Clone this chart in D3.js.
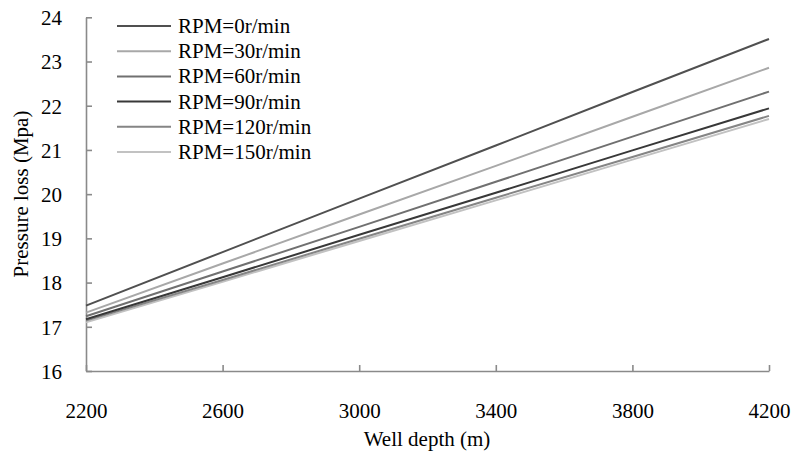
<!DOCTYPE html>
<html lang="en">
<head>
<meta charset="UTF-8">
<script src="https://d3js.org/d3.v7.min.js"></script>
<style>
  body { margin: 0; background: #fff; }
  svg text { font-family: "Liberation Serif", "Times New Roman", serif; fill: #000; }
  .axis path, .axis line { stroke: #8a8a8a; stroke-width: 1.6px; }
</style>
</head>
<body>
<svg width="793" height="453"></svg>
<script>
// well depth (m)
var depths = [2200, 2600, 3000, 3400, 3800, 4200];
// pressure loss (MPa) per rotation speed
var rpm0   = [17.48, 18.69, 19.90, 21.10, 22.31, 23.51];
var rpm30  = [17.32, 18.43, 19.54, 20.64, 21.75, 22.86];
var rpm60  = [17.24, 18.25, 19.26, 20.28, 21.30, 22.32];
var rpm90  = [17.17, 18.12, 19.08, 20.03, 20.99, 21.94];
var rpm120 = [17.14, 18.06, 18.99, 19.92, 20.84, 21.77];
var rpm150 = [17.10, 18.02, 18.94, 19.86, 20.78, 21.70];
var seriesNames = ["RPM=0r/min", "RPM=30r/min", "RPM=60r/min", "RPM=90r/min", "RPM=120r/min", "RPM=150r/min"];
var yTicks = [16, 17, 18, 19, 20, 21, 22, 23, 24];

var series = [rpm0, rpm30, rpm60, rpm90, rpm120, rpm150];
var colors = ["#505050", "#a8a8a8", "#707070", "#383838", "#858585", "#c2c2c2"];

var svg = d3.select("svg");
var x = d3.scaleLinear().domain([2200, 4200]).range([86, 769]);
var y = d3.scaleLinear().domain([16, 24]).range([371, 17.3]);

// axes, ticks point inward
svg.append("g").attr("class", "axis")
  .attr("transform", "translate(0,371)")
  .call(d3.axisBottom(x).tickValues(depths).tickSize(-6).tickSizeOuter(0).tickFormat(d3.format("d")))
  .call(function(g){
    g.selectAll("text").attr("y", 47).attr("dy", 0).style("font-size", "21px");
  });

svg.append("g").attr("class", "axis")
  .attr("transform", "translate(86,0)")
  .call(d3.axisLeft(y).tickValues(yTicks).tickSize(-6).tickSizeOuter(0))
  .call(function(g){
    g.selectAll("text").attr("x", -24).attr("dy", "0.35em").style("font-size", "21px");
  });

svg.append("text").attr("x", 427).attr("y", 446).attr("text-anchor", "middle")
  .style("font-size", "21px").text("Well depth (m)");
svg.append("text").attr("transform", "translate(28,194) rotate(-90)")
  .attr("text-anchor", "middle").style("font-size", "21px").text("Pressure loss (Mpa)");

var line = d3.line().x(function(d, i){ return x(depths[i]); }).y(function(d){ return y(d); });

// draw lighter series first so the dark ones sit on top
[5, 4, 3, 2, 1, 0].forEach(function(i){
  svg.append("path").attr("d", line(series[i]))
    .attr("fill", "none").attr("stroke", colors[i]).attr("stroke-width", 2);
});

// legend
var leg = svg.append("g");
seriesNames.forEach(function(name, i){
  var ly = 26 + i * 25.2;
  leg.append("line").attr("x1", 117).attr("x2", 171).attr("y1", ly).attr("y2", ly)
    .attr("stroke", colors[i]).attr("stroke-width", 2);
  leg.append("text").attr("x", 178).attr("y", ly + 7).style("font-size", "21px").text(name);
});
</script>
</body>
</html>
